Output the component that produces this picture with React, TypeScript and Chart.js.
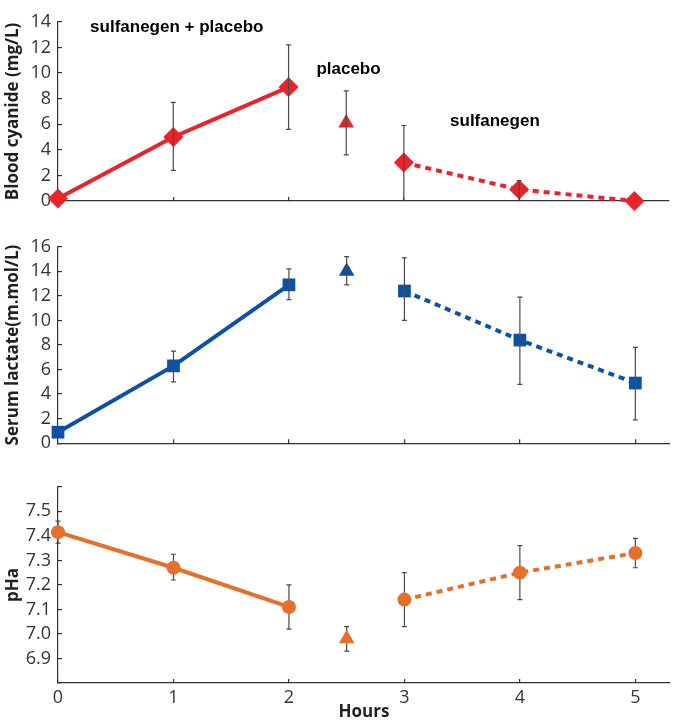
import React, { useEffect, useRef } from "react";
import { Chart, registerables } from "chart.js";
Chart.register(...registerables);

// ---------- data ----------
const hours = [0, 1, 2, 3, 4, 5];
const placeboHour = 2.5;
const xTickValues = [0, 1, 2, 3, 4, 5];
const xTickLabels = ["0", "1", "2", "3", "4", "5"];

const cyanideMean = [0.2, 5.0, 8.9, 3.0, 0.9, 0.0];
const cyanideLow = [0.2, 2.4, 5.6, 0.0, 0.0, 0.0];
const cyanideHigh = [0.2, 7.7, 12.2, 5.9, 1.6, 0.0];
const cyanidePlacebo = 6.1;
const cyanidePlaceboLow = 3.6;
const cyanidePlaceboHigh = 8.6;
const cyanideTicks = [0, 2, 4, 6, 8, 10, 12, 14];
const cyanideTickLabels = ["0", "2", "4", "6", "8", "10", "12", "14"];

const lactateMean = [0.9, 6.3, 12.9, 12.4, 8.4, 4.9];
const lactateLow = [0.9, 5.0, 11.7, 10.0, 4.8, 1.9];
const lactateHigh = [0.9, 7.5, 14.2, 15.1, 11.9, 7.8];
const lactatePlacebo = 14.0;
const lactatePlaceboLow = 12.9;
const lactatePlaceboHigh = 15.2;
const lactateTicks = [0, 2, 4, 6, 8, 10, 12, 14, 16];
const lactateTickLabels = ["0", "2", "4", "6", "8", "10", "12", "14", "16"];

const phMean = [7.415, 7.27, 7.11, 7.14, 7.25, 7.33];
const phLow = [7.37, 7.22, 7.02, 7.03, 7.14, 7.27];
const phHigh = [7.46, 7.325, 7.2, 7.25, 7.36, 7.39];
const phPlacebo = 6.98;
const phPlaceboLow = 6.93;
const phPlaceboHigh = 7.03;
const phTicks = [6.8, 6.9, 7.0, 7.1, 7.2, 7.3, 7.4, 7.5, 7.6];
const phTickLabels = ["", "6.9", "7.0", "7.1", "7.2", "7.3", "7.4", "7.5", ""];

const annotationTexts = ["sulfanegen + placebo", "placebo", "sulfanegen"];
const annotationHours = [1.03, 2.52, 3.79];
const annotationValues = [13.55, 10.3, 6.2];

// ---------- styling ----------
const RED = "#e8232b";
const BLUE = "#0b52a6";
const ORANGE = "#e4702a";
const AXIS = "#333333";
const TEXT = "#231f20";
const ERR = "#4a4a4a";
const TICK_FONT = { family: "'Open Sans', 'DejaVu Sans', sans-serif", size: 18, weight: "normal" as const };
const TITLE_FONT = { family: "'Open Sans', 'DejaVu Sans', sans-serif", size: 17, weight: "bold" as const };

interface PanelSpec {
  mean: number[];
  low: number[];
  high: number[];
  placebo: number;
  placeboLow: number;
  placeboHigh: number;
  yTicks: number[];
  yTickLabels: string[];
  yTitle: string;
  color: string;
  marker: string;
  markerRadius: number;
  padTop: number;
  xHeight: number;
  showX: boolean;
  errOnTop: boolean;
  annotations: boolean;
}

const pts = (idx: number[], mean: number[]) => idx.map((i) => ({ x: hours[i], y: mean[i] }));

function makeChart(canvas: HTMLCanvasElement, p: PanelSpec) {
  const drawBars = (chart: any) => {
    const { ctx, scales } = chart;
    const xs = scales.x;
    const ys = scales.y;
    const bars: { x: number; lo: number; hi: number }[] = hours.map((h, i) => ({ x: h, lo: p.low[i], hi: p.high[i] }));
    bars.push({ x: placeboHour, lo: p.placeboLow, hi: p.placeboHigh });
    ctx.save();
    ctx.strokeStyle = ERR;
    ctx.lineWidth = 1.2;
    for (const b of bars) {
      if (b.hi - b.lo <= 0) continue;
      const px = xs.getPixelForValue(b.x);
      const y1 = ys.getPixelForValue(b.lo);
      const y2 = ys.getPixelForValue(b.hi);
      ctx.beginPath();
      ctx.moveTo(px, y1);
      ctx.lineTo(px, y2);
      ctx.moveTo(px - 2.5, y2);
      ctx.lineTo(px + 2.5, y2);
      if (b.lo > ys.min) {
        ctx.moveTo(px - 2.5, y1);
        ctx.lineTo(px + 2.5, y1);
      }
      ctx.stroke();
    }
    ctx.restore();
  };

  const errorBarPlugin = {
    id: "errorBarsCustom",
    beforeDatasetsDraw(chart: any) {
      if (!p.errOnTop) drawBars(chart);
    },
    afterDatasetsDraw(chart: any) {
      if (p.errOnTop) drawBars(chart);
    },
  };

  const annotationPlugin = {
    id: "annotationTexts",
    afterDraw(chart: any) {
      if (!p.annotations) return;
      const { ctx, scales } = chart;
      ctx.save();
      ctx.font = "bold 17px 'Liberation Sans', Arial, sans-serif";
      ctx.fillStyle = "#000";
      ctx.textAlign = "center";
      ctx.textBaseline = "middle";
      annotationTexts.forEach((t, i) => {
        ctx.fillText(t, scales.x.getPixelForValue(annotationHours[i]), scales.y.getPixelForValue(annotationValues[i]));
      });
      ctx.restore();
    },
  };

  const common = {
    backgroundColor: p.color,
    borderColor: p.color,
    pointBackgroundColor: p.color,
    pointBorderColor: p.color,
    pointBorderWidth: 0,
    pointStyle: p.marker,
    pointRadius: p.markerRadius,
    borderWidth: 4,
    clip: false as const,
  };

  return new Chart(canvas, {
    type: "scatter",
    data: {
      datasets: [
        { ...common, data: pts([0, 1, 2], p.mean), showLine: true },
        { ...common, data: pts([3, 4, 5], p.mean), showLine: true, borderDash: [6, 5] },
        {
          ...common,
          data: [{ x: placeboHour, y: p.placebo }],
          showLine: false,
          pointStyle: "triangle",
          pointRadius: 9,
        },
      ],
    },
    options: {
      responsive: false,
      animation: false,
      events: [],
      layout: { padding: { top: p.padTop, right: 6, left: 0, bottom: 0 } },
      plugins: { legend: { display: false }, tooltip: { enabled: false } },
      scales: {
        x: {
          type: "linear",
          min: 0,
          max: 5.3,
          afterBuildTicks: (s: any) => {
            s.ticks = xTickValues.map((v) => ({ value: v }));
          },
          afterFit: (s: any) => {
            s.height = p.xHeight;
          },
          border: { display: true, color: AXIS, width: 1.2 },
          grid: { drawOnChartArea: false, drawTicks: true, tickLength: -4, color: AXIS, lineWidth: 1.2 },
          ticks: {
            display: p.showX,
            padding: 8,
            color: AXIS,
            font: TICK_FONT,
            autoSkip: false,
            maxRotation: 0,
            callback: (_v: any, i: number) => xTickLabels[i],
          },
          title: {
            display: p.showX,
            text: "Hours",
            color: TEXT,
            font: { ...TITLE_FONT, size: 17 },
            padding: { top: 0, bottom: 2 },
          },
        },
        y: {
          type: "linear",
          min: p.yTicks[0],
          max: p.yTicks[p.yTicks.length - 1],
          afterBuildTicks: (s: any) => {
            s.ticks = p.yTicks.map((v) => ({ value: v }));
          },
          afterFit: (s: any) => {
            s.width = 58;
          },
          border: { display: true, color: AXIS, width: 1.2 },
          grid: { drawOnChartArea: false, drawTicks: true, tickLength: -4, color: AXIS, lineWidth: 1.2 },
          ticks: {
            padding: 11,
            color: AXIS,
            font: TICK_FONT,
            autoSkip: false,
            callback: (_v: any, i: number) => p.yTickLabels[i],
          },
          title: {
            display: true,
            text: p.yTitle,
            color: TEXT,
            font: TITLE_FONT,
            padding: { top: 3, bottom: 0 },
          },
        },
      },
    } as any,
    plugins: [errorBarPlugin, annotationPlugin] as any,
  });
}

const topPanel: PanelSpec = {
  mean: cyanideMean,
  low: cyanideLow,
  high: cyanideHigh,
  placebo: cyanidePlacebo,
  placeboLow: cyanidePlaceboLow,
  placeboHigh: cyanidePlaceboHigh,
  yTicks: cyanideTicks,
  yTickLabels: cyanideTickLabels,
  yTitle: "Blood cyanide (mg/L)",
  color: RED,
  marker: "rectRot",
  markerRadius: 10,
  padTop: 12,
  xHeight: 24,
  showX: false,
  errOnTop: true,
  annotations: true,
};

const midPanel: PanelSpec = {
  mean: lactateMean,
  low: lactateLow,
  high: lactateHigh,
  placebo: lactatePlacebo,
  placeboLow: lactatePlaceboLow,
  placeboHigh: lactatePlaceboHigh,
  yTicks: lactateTicks,
  yTickLabels: lactateTickLabels,
  yTitle: "Serum lactate(m.mol/L)",
  color: BLUE,
  marker: "rect",
  markerRadius: 9,
  padTop: 19,
  xHeight: 20,
  showX: false,
  errOnTop: true,
  annotations: false,
};

const botPanel: PanelSpec = {
  mean: phMean,
  low: phLow,
  high: phHigh,
  placebo: phPlacebo,
  placeboLow: phPlaceboLow,
  placeboHigh: phPlaceboHigh,
  yTicks: phTicks,
  yTickLabels: phTickLabels,
  yTitle: "pHa",
  color: ORANGE,
  marker: "circle",
  markerRadius: 7,
  padTop: 16,
  xHeight: 41,
  showX: true,
  errOnTop: false,
  annotations: false,
};

export default function App() {
  const r1 = useRef<HTMLCanvasElement>(null);
  const r2 = useRef<HTMLCanvasElement>(null);
  const r3 = useRef<HTMLCanvasElement>(null);

  useEffect(() => {
    const charts = [
      makeChart(r1.current!, topPanel),
      makeChart(r2.current!, midPanel),
      makeChart(r3.current!, botPanel),
    ];
    return () => charts.forEach((c) => c.destroy());
  }, []);

  return (
    <div style={{ position: "absolute", left: 0, top: 0, width: 679, height: 724, background: "#fff" }}>
      <canvas ref={r1} width={679} height={225} style={{ position: "absolute", left: 0, top: 0 }} />
      <canvas ref={r2} width={679} height={240} style={{ position: "absolute", left: 0, top: 225 }} />
      <canvas ref={r3} width={679} height={259} style={{ position: "absolute", left: 0, top: 465 }} />
    </div>
  );
}
